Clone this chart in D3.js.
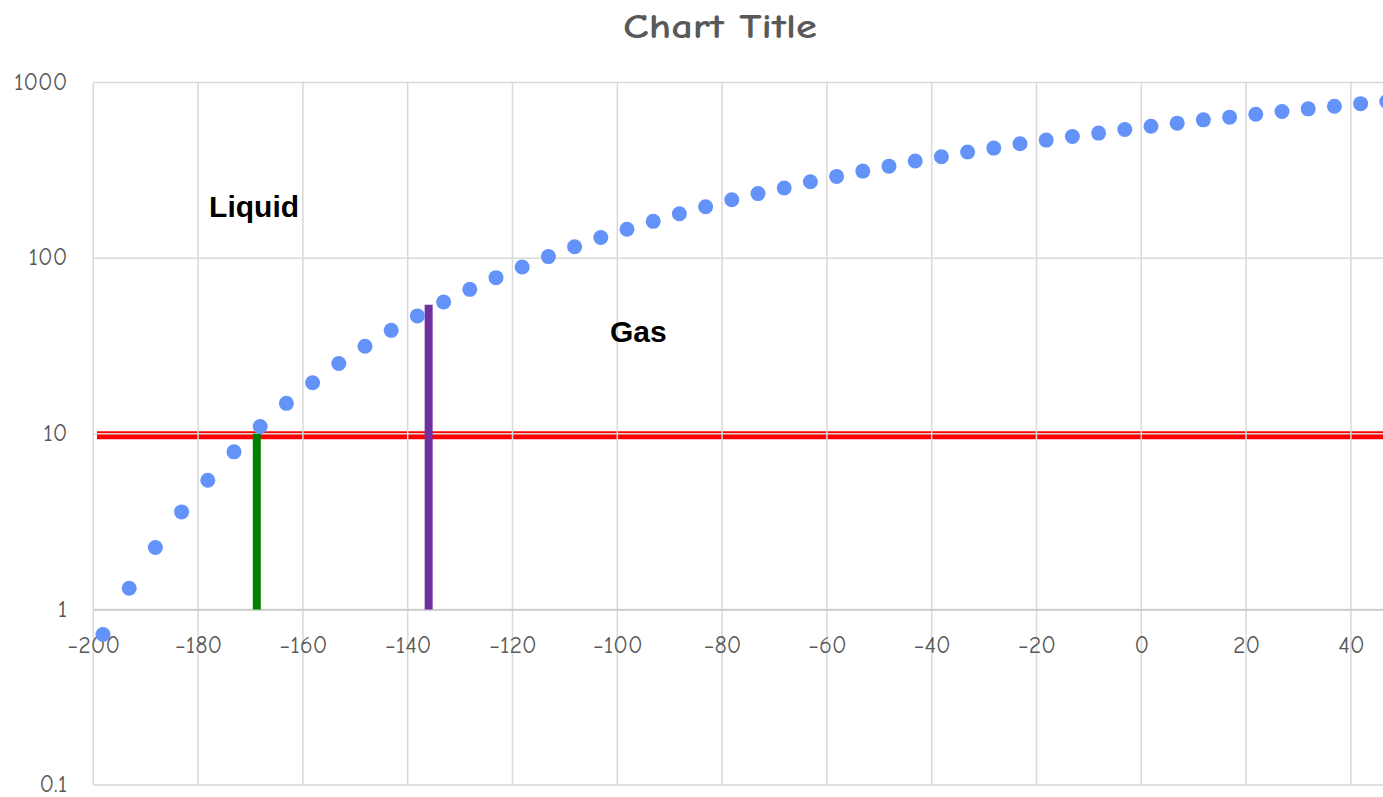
<!DOCTYPE html>
<html>
<head>
<meta charset="utf-8">
<script src="https://cdn.jsdelivr.net/npm/d3@7"></script>
<style>
  html, body { margin: 0; padding: 0; background: #ffffff; overflow: hidden; }
  svg { display: block; }
  .tick-label { font-family: "Comic Sans MS", "Comic Neue", Lato, "Open Sans", sans-serif; fill: #595959; }
</style>
</head>
<body>
<svg id="chart" width="1383" height="797"></svg>
<script>
// Vapour pressure curve: temperature (°C) vs pressure, log scale
const temperatures = [
  -198.15, -193.15, -188.15, -183.15, -178.15, -173.15, -168.15, -163.15, -158.15, -153.15,
  -148.15, -143.15, -138.15, -133.15, -128.15, -123.15, -118.15, -113.15, -108.15, -103.15,
  -98.15, -93.15, -88.15, -83.15, -78.15, -73.15, -68.15, -63.15, -58.15, -53.15,
  -48.15, -43.15, -38.15, -33.15, -28.15, -23.15, -18.15, -13.15, -8.15, -3.15,
  1.85, 6.85, 11.85, 16.85, 21.85, 26.85, 31.85, 36.85, 41.85, 46.85
];
const pressures = [
  0.72, 1.32, 2.25, 3.59, 5.44, 7.89, 11.0, 14.9, 19.5, 25.1,
  31.5, 38.8, 46.9, 56.3, 66.4, 77.4, 89.0, 102, 116, 131,
  146, 162, 179, 196, 215, 233, 251, 272, 292, 313,
  334, 357, 378, 402, 423, 448, 470, 493, 515, 540,
  564, 587, 613, 635, 660, 684, 708, 733, 758, 780
];

// Reference lines
const limitPressure = [10, 10];          // horizontal line at 10
const limitTemps = [-199.3, 50];
const greenTemp = [-168.8, -168.8];
const greenPressure = [1, 10];
const purpleTemp = [-136.0, -136.0];
const purplePressure = [1, 54.3];

// Axis ticks
const xTicks = [-200, -180, -160, -140, -120, -100, -80, -60, -40, -20, 0, 20, 40];
const yTicks = [0.1, 1, 10, 100, 1000];

// Annotations
const labelText = ["Liquid", "Gas"];
const labelTemp = [-177.9, -101.4];
const labelPressure = [172, 33.5];

const svg = d3.select("#chart");
const plotLeft = 93.3, plotTop = 82.5, plotBottom = 785;
const xMax = 50;
const pxPerUnit = 5.24;

const x = d3.scaleLinear().domain([-200, xMax]).range([plotLeft, plotLeft + (xMax + 200) * pxPerUnit]);
const y = d3.scaleLog().domain([0.1, 1000]).range([plotBottom, plotTop]);

// Title
svg.append("text")
  .attr("x", 720).attr("y", 38)
  .attr("text-anchor", "middle")
  .attr("font-family", "\"Comic Sans MS\", \"Comic Neue\", Lato, \"Open Sans\", sans-serif")
  .attr("font-size", 35)
  .attr("font-weight", "bold")
  .attr("fill", "#595959")
  .attr("textLength", 194)
  .attr("lengthAdjust", "spacingAndGlyphs")
  .text("Chart Title");

// Red limit band (sits under the gridlines)
const line = d3.line().x(d => x(d[0])).y(d => y(d[1]));
svg.append("path")
  .datum(d3.zip(limitTemps, limitPressure))
  .attr("d", line)
  .attr("transform", "translate(0,1.6)")
  .attr("stroke", "#ff0000")
  .attr("stroke-width", 8)
  .attr("fill", "none");

// Gridlines
const grid = svg.append("g");
grid.selectAll("line.v").data(xTicks.concat([xMax])).join("line")
  .attr("class", "v")
  .attr("x1", d => x(d)).attr("x2", d => x(d))
  .attr("y1", plotTop).attr("y2", plotBottom)
  .attr("stroke", "#d9d9d9").attr("stroke-width", 1.5);
grid.selectAll("line.h").data(yTicks).join("line")
  .attr("class", "h")
  .attr("x1", plotLeft).attr("x2", x(xMax))
  .attr("y1", d => y(d)).attr("y2", d => y(d))
  .attr("stroke", "#d9d9d9").attr("stroke-width", 1.5);

// Horizontal axis crossing at 1
const xAxis = d3.axisBottom(x).tickValues(xTicks).tickSize(0).tickPadding(0).tickFormat(d3.format("d"));
const gx = svg.append("g").attr("transform", `translate(0,${y(1)})`).call(xAxis);
gx.select(".domain").attr("stroke", "#c8c8c8").attr("stroke-width", 1.5);
gx.selectAll("text").attr("class", "tick-label").attr("font-size", 24)
  .attr("y", 44).attr("dy", 0);

// Vertical axis labels
const yAxis = d3.axisLeft(y).tickValues(yTicks).tickSize(0).tickPadding(26)
  .tickFormat(d => d < 1 ? d3.format(".1f")(d) : d3.format("d")(d));
const gy = svg.append("g").attr("transform", `translate(${plotLeft},0)`).call(yAxis);
gy.select(".domain").remove();
gy.selectAll("text").attr("class", "tick-label").attr("font-size", 24).attr("dy", "0.28em");

// Vertical markers
svg.append("path").datum(d3.zip(greenTemp, greenPressure)).attr("d", line)
  .attr("stroke", "#008000").attr("stroke-width", 8).attr("fill", "none");
svg.append("path").datum(d3.zip(purpleTemp, purplePressure)).attr("d", line)
  .attr("stroke", "#7030a0").attr("stroke-width", 8).attr("fill", "none");

// Data points
svg.append("g").selectAll("circle")
  .data(d3.zip(temperatures, pressures))
  .join("circle")
  .attr("cx", d => x(d[0]))
  .attr("cy", d => y(d[1]))
  .attr("r", 7.5)
  .attr("fill", "#6393f9");

// Region labels
svg.append("g").selectAll("text")
  .data(d3.zip(labelText, labelTemp, labelPressure))
  .join("text")
  .attr("x", d => x(d[1]))
  .attr("y", d => y(d[2]))
  .attr("font-family", "\"Liberation Sans\", Arial, sans-serif")
  .attr("font-weight", "bold")
  .attr("font-size", 30)
  .attr("fill", "#000000")
  .text(d => d[0]);
</script>
</body>
</html>
